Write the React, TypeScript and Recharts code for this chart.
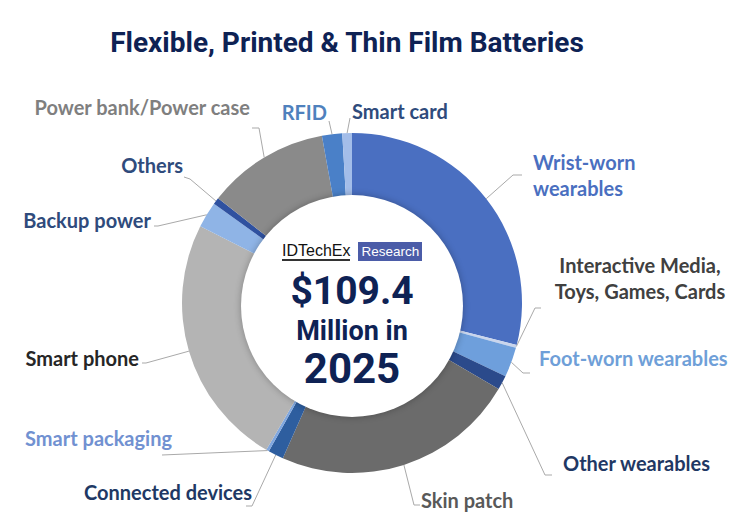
import { PieChart, Pie, Cell } from "recharts"

const categories = [
  "Wrist-worn wearables",
  "Interactive Media, Toys, Games, Cards",
  "Foot-worn wearables",
  "Other wearables",
  "Skin patch",
  "Connected devices",
  "Smart packaging",
  "Smart phone",
  "Backup power",
  "Others",
  "Power bank/Power case",
  "RFID",
  "Smart card",
]

// market value, $M (total 109.4)
const values = [31.7, 0.3, 3.1, 1.5, 25.4, 1.6, 0.3, 26.3, 2.7, 0.7, 12.7, 2.1, 1.0]

const sliceColors = [
  "#4a6fc1", "#c9d5ec", "#6e9fdc", "#2b4a8b", "#6b6b6b", "#2e5e9f", "#80a7df",
  "#b4b4b4", "#8fb4e6", "#2f51a0", "#8a8a8a", "#4a80c8", "#a3bde9",
]

const labelColors = [
  "#4a6fc0", "#404040", "#6f9fd8", "#1f3864", "#595959", "#203864", "#7191d1",
  "#262626", "#2f4b7c", "#2f4b7c", "#7f7f7f", "#4f81bd", "#2f4b7c",
]

const labelLines: Record<string, string[]> = {
  "Wrist-worn wearables": ["Wrist-worn", "wearables"],
  "Interactive Media, Toys, Games, Cards": ["Interactive Media,", "Toys, Games, Cards"],
}

// where each label sits and how its leader line bends
const labelLayout: Record<string, { x: number; y: number; anchor: string; line: number[][] }> = {
  "Wrist-worn wearables": { x: 533, y: 162, anchor: "start", line: [[513, 175], [522, 175]] },
  "Interactive Media, Toys, Games, Cards": { x: 640, y: 265, anchor: "middle", line: [[535, 308], [541, 308]] },
  "Foot-worn wearables": { x: 539, y: 358, anchor: "start", line: [[523, 373], [530, 373]] },
  "Other wearables": { x: 563, y: 463, anchor: "start", line: [[545, 475], [552, 475]] },
  "Skin patch": { x: 421, y: 500, anchor: "start", line: [[414, 505], [420, 505]] },
  "Connected devices": { x: 252, y: 492, anchor: "end", line: [[252, 506], [246, 506]] },
  "Smart packaging": { x: 172, y: 438, anchor: "end", line: [[162, 455]] },
  "Smart phone": { x: 139, y: 358, anchor: "end", line: [[146, 363], [142, 363]] },
  "Backup power": { x: 151, y: 220, anchor: "end", line: [[158, 226], [154, 226]] },
  "Others": { x: 183, y: 165, anchor: "end", line: [[190, 179], [184, 177]] },
  "Power bank/Power case": { x: 250, y: 107, anchor: "end", line: [[259, 128], [252, 128]] },
  "RFID": { x: 327, y: 112, anchor: "end", line: [[329, 121]] },
  "Smart card": { x: 352, y: 111, anchor: "start", line: [[350, 118]] },
}

const data = categories.map((name, i) => ({ name, value: values[i] }))

const RAD = Math.PI / 180
const NAVY = "#0e2254"

function SliceLabel(props: any) {
  const { cx, cy, midAngle, outerRadius, name, index } = props
  const lay = labelLayout[name]
  if (!lay) return null
  const sx = cx + outerRadius * Math.cos(-midAngle * RAD)
  const sy = cy + outerRadius * Math.sin(-midAngle * RAD)
  const pts = [[sx, sy], ...lay.line].map((p) => p.join(",")).join(" ")
  const lines = labelLines[name] ?? [name]
  return (
    <g>
      <polyline points={pts} fill="none" stroke="#a9a9a9" strokeWidth={1} />
      <text
        x={lay.x}
        y={lay.y}
        textAnchor={lay.anchor as any}
        dominantBaseline="central"
        fill={labelColors[index]}
        style={{ fontFamily: "Lato, 'Open Sans', sans-serif", fontWeight: 700, fontSize: 20 }}
      >
        {lines.map((l, i) => (
          <tspan key={i} x={lay.x} dy={i === 0 ? 0 : 26}>{l}</tspan>
        ))}
      </text>
    </g>
  )
}

export default function App() {
  return (
    <div style={{ position: "absolute", left: 0, top: 0, width: 750, height: 520, background: "#fff", overflow: "hidden" }}>
      <div style={{
        position: "absolute", left: 0, width: 694, top: 26, textAlign: "center",
        fontFamily: "Roboto, sans-serif", fontWeight: 700, fontSize: 28, color: NAVY,
        lineHeight: "34px",
      }}>
        Flexible, Printed &amp; Thin Film Batteries
      </div>
      <PieChart width={750} height={520} margin={{ top: 0, right: 0, bottom: 0, left: 0 }}
                style={{ position: "absolute", left: 0, top: 0 }}>
        <Pie
          data={data}
          dataKey="value"
          nameKey="name"
          cx={352}
          cy={303}
          innerRadius={106}
          outerRadius={170}
          startAngle={90}
          endAngle={-270}
          stroke="none"
          label={SliceLabel}
          labelLine={false}
          isAnimationActive={false}
        >
          {data.map((d, i) => (
            <Cell key={d.name} fill={sliceColors[i]} />
          ))}
        </Pie>
      </PieChart>
      <div style={{
        position: "absolute", left: 352 - 111, top: 306 - 111, width: 222, height: 222,
        borderRadius: "50%", background: "#fff", boxShadow: "0 0 7px rgba(0,0,0,0.28)",
        pointerEvents: "none",
      }} />
      <div style={{ position: "absolute", left: 282, top: 241, height: 20, display: "flex", alignItems: "center" }}>
        <span style={{
          fontFamily: "Arial, 'Liberation Sans', sans-serif", fontSize: 16, color: "#111",
          borderBottom: "2px solid #333", lineHeight: "17px",
        }}>IDTechEx</span>
        <span style={{
          marginLeft: 8, background: "#4b5ca8", color: "#fff", height: 19, lineHeight: "19px",
          padding: "0 3px", fontFamily: "Arial, 'Liberation Sans', sans-serif", fontSize: 13.5,
        }}>Research</span>
      </div>
      <div style={{
        position: "absolute", left: 252, width: 200, top: 267, textAlign: "center",
        fontFamily: "Roboto, sans-serif", fontWeight: 700, color: NAVY,
      }}>
        <div style={{ fontSize: 39, lineHeight: "48px" }}>$109.4</div>
        <div style={{ fontSize: 27, lineHeight: "32px" }}>Million in</div>
        <div style={{ fontSize: 42, lineHeight: "44px" }}>2025</div>
      </div>
    </div>
  )
}
